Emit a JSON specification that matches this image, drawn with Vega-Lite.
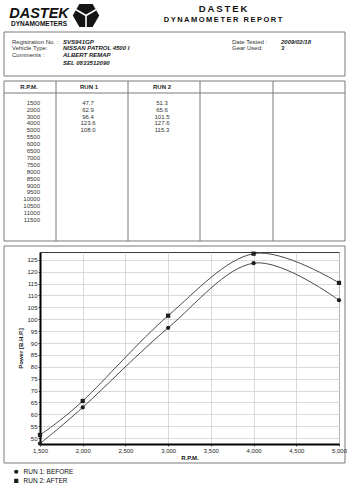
{
  "$schema": "https://vega.github.io/schema/vega-lite/v6.json",
  "padding": 0,
  "background": "white",
  "bounds": "flush",
  "spacing": 0,
  "config": {"font": "Liberation Sans", "view": {"stroke": null}, "concat": {"spacing": 0}},
  "vconcat": [
    {
      "width": 354,
      "height": 252,
      "layer": [
        {
          "encoding": {
            "x": {"field": "hx", "type": "quantitative", "axis": null,
              "scale": {"domain": [0,1,2,3,4,5,6,7,8,9,10,11,12,13,14,15], "range": [4,12,29,39,56,63,86,89,128,162,200,223,232,273,281,345], "nice": false, "zero": false}},
            "y": {"field": "vy", "type": "quantitative", "axis": null,
              "scale": {"domain": [0,1,2,3,4,5,6,7,8,9,10,11,12,13,14,15,16], "range": [8.5,13.7,15.5,19.5,24.2,32,41.7,48.3,55,62.7,76,81,86.5,93,241,246,463], "nice": false, "zero": false}}
          },
          "layer": [
            {
              "data": {"values": [
                {"hx": 0, "hx2": 15, "vy": 5, "vy2": 10},
                {"hx": 0, "hx2": 15, "vy": 11, "vy2": 14},
                {"hx": 0, "hx2": 15, "vy": 15, "vy2": 16}
              ]},
              "mark": {"type": "rect", "fillOpacity": 0, "stroke": "#7a7a7a", "strokeWidth": 1},
              "encoding": {"x2": {"field": "hx2"}, "y2": {"field": "vy2"}}
            },
            {
              "data": {"values": [
                {"hx": 4, "hx2": 4, "vy": 11, "vy2": 14},
                {"hx": 8, "hx2": 8, "vy": 11, "vy2": 14},
                {"hx": 10, "hx2": 10, "vy": 11, "vy2": 14},
                {"hx": 13, "hx2": 13, "vy": 11, "vy2": 14},
                {"hx": 0, "hx2": 15, "vy": 13, "vy2": 13}
              ]},
              "mark": {"type": "rule", "stroke": "#7a7a7a", "strokeWidth": 1},
              "encoding": {"x2": {"field": "hx2"}, "y2": {"field": "vy2"}}
            },
            {
              "data": {"values": [{"hx": 11, "vy": 0, "text": "D\u2009A\u2009S\u2009T\u2009E\u2009K"}]},
              "mark": {"type": "text", "fontSize": 9.5, "fontWeight": "bold", "align": "center", "baseline": "middle", "color": "#111"},
              "encoding": {"text": {"field": "text"}}
            },
            {
              "data": {"values": [{"hx": 11, "vy": 3, "text": "D\u2009Y\u2009N\u2009A\u2009M\u2009O\u2009M\u2009E\u2009T\u2009E\u2009R\u2009 \u2009R\u2009E\u2009P\u2009O\u2009R\u2009T"}]},
              "mark": {"type": "text", "fontSize": 7.5, "fontWeight": "bold", "align": "center", "baseline": "middle", "color": "#111"},
              "encoding": {"text": {"field": "text"}}
            },
            {
              "data": {"values": [{"hx": 3, "vy": 1, "text": "DASTEK"}]},
              "mark": {"type": "text", "fontSize": 14.5, "fontWeight": "bold", "fontStyle": "italic", "align": "center", "baseline": "middle", "color": "#111"},
              "encoding": {"text": {"field": "text"}}
            },
            {
              "data": {"values": [{"hx": 3, "vy": 4, "text": "DYNAMOMETERS"}]},
              "mark": {"type": "text", "fontSize": 6.5, "fontWeight": "bold", "align": "center", "baseline": "middle", "color": "#111"},
              "encoding": {"text": {"field": "text"}}
            },
            {
              "data": {"values": [{"hx": 6, "vy": 2}]},
              "mark": {"type": "point", "shape": "M-1,0L-0.5,-0.87L0.5,-0.87L1,0L0.5,0.87L-0.5,0.87Z", "filled": true, "color": "#151515", "opacity": 1, "size": 700}
            },
            {
              "data": {"values": [{"hx": 6, "vy": 2}]},
              "mark": {"type": "point", "shape": "M0,0L0,0.87M0,0L-0.75,-0.43M0,0L0.75,-0.43", "filled": false, "stroke": "white", "strokeWidth": 1.6, "opacity": 1, "size": 700}
            },
            {
              "data": {"values": [
                {"hx": 1, "vy": 6, "text": "Registration No. :"},
                {"hx": 1, "vy": 7, "text": "Vehicle Type:"},
                {"hx": 1, "vy": 8, "text": "Comments :"},
                {"hx": 12, "vy": 6, "text": "Date Tested :"},
                {"hx": 12, "vy": 7, "text": "Gear Used:"}
              ]},
              "mark": {"type": "text", "fontSize": 6, "align": "left", "baseline": "middle", "color": "#333"},
              "encoding": {"text": {"field": "text"}}
            },
            {
              "data": {"values": [
                {"hx": 5, "vy": 6, "text": "SVS941GP"},
                {"hx": 5, "vy": 7, "text": "NISSAN PATROL 4500 I"},
                {"hx": 5, "vy": 8, "text": "ALBERT    REMAP"},
                {"hx": 5, "vy": 9, "text": "SEL   0833512090"},
                {"hx": 14, "vy": 6, "text": "2009/02/18"},
                {"hx": 14, "vy": 7, "text": "3"}
              ]},
              "mark": {"type": "text", "fontSize": 6, "fontWeight": "bold", "fontStyle": "italic", "align": "left", "baseline": "middle", "color": "#1a1a1a"},
              "encoding": {"text": {"field": "text"}}
            },
            {
              "data": {"values": [
                {"hx": 2, "vy": 12, "text": "R.P.M."},
                {"hx": 7, "vy": 12, "text": "RUN 1"},
                {"hx": 9, "vy": 12, "text": "RUN 2"}
              ]},
              "mark": {"type": "text", "fontSize": 6, "fontWeight": "bold", "align": "center", "baseline": "middle", "color": "#222"},
              "encoding": {"text": {"field": "text"}}
            }
          ]
        },
        {
          "data": {"values": [
            {"rpm": "1500", "run1": 47.7, "run2": 51.3},
            {"rpm": "2000", "run1": 62.9, "run2": 65.6},
            {"rpm": "3000", "run1": 96.4, "run2": 101.5},
            {"rpm": "4000", "run1": 123.6, "run2": 127.6},
            {"rpm": "5000", "run1": 108.0, "run2": 115.3},
            {"rpm": "5500"},
            {"rpm": "6000"},
            {"rpm": "6500"},
            {"rpm": "7000"},
            {"rpm": "7500"},
            {"rpm": "8000"},
            {"rpm": "8500"},
            {"rpm": "9000"},
            {"rpm": "9500"},
            {"rpm": "10000"},
            {"rpm": "10500"},
            {"rpm": "11000"},
            {"rpm": "11500"}
          ]},
          "encoding": {
            "y": {"field": "rpm", "type": "ordinal", "sort": null, "axis": null,
              "scale": {"type": "point", "domain": ["1500","2000","3000","4000","5000","5500","6000","6500","7000","7500","8000","8500","9000","9500","10000","10500","11000","11500"], "range": [102.7, 220], "padding": 0}}
          },
          "layer": [
            {
              "mark": {"type": "text", "fontSize": 6, "align": "right", "baseline": "middle", "color": "#333"},
              "encoding": {
                "x": {"datum": 0, "type": "quantitative", "axis": null, "scale": {"domain": [0, 1, 2], "range": [40, 88, 162], "nice": false, "zero": false}},
                "text": {"field": "rpm"}
              }
            },
            {
              "transform": [{"filter": "isValid(datum.run1)"}],
              "mark": {"type": "text", "fontSize": 6, "align": "center", "baseline": "middle", "color": "#333"},
              "encoding": {
                "x": {"datum": 1, "type": "quantitative", "axis": null, "scale": {"domain": [0, 1, 2], "range": [40, 88, 162], "nice": false, "zero": false}},
                "text": {"field": "run1", "type": "quantitative", "format": ".1f"}
              }
            },
            {
              "transform": [{"filter": "isValid(datum.run2)"}],
              "mark": {"type": "text", "fontSize": 6, "align": "center", "baseline": "middle", "color": "#333"},
              "encoding": {
                "x": {"datum": 2, "type": "quantitative", "axis": null, "scale": {"domain": [0, 1, 2], "range": [40, 88, 162], "nice": false, "zero": false}},
                "text": {"field": "run2", "type": "quantitative", "format": ".1f"}
              }
            }
          ]
        }
      ],
      "resolve": {"scale": {"x": "independent", "y": "independent"}}
    },
    {
      "bounds": "flush",
      "spacing": 0,
      "hconcat": [
        {"width": 40, "height": 192, "data": {"values": []}, "mark": "point"},
        {
          "width": 299,
          "height": 192,
          "view": {"stroke": "#3a3a3a", "strokeWidth": 1},
          "data": {"values": [
            {"series": "RUN 1: BEFORE", "rpm": 1500, "power": 47.7},
            {"series": "RUN 1: BEFORE", "rpm": 2000, "power": 62.9},
            {"series": "RUN 1: BEFORE", "rpm": 3000, "power": 96.4},
            {"series": "RUN 1: BEFORE", "rpm": 4000, "power": 123.6},
            {"series": "RUN 1: BEFORE", "rpm": 5000, "power": 108.0},
            {"series": "RUN 2: AFTER", "rpm": 1500, "power": 51.3},
            {"series": "RUN 2: AFTER", "rpm": 2000, "power": 65.6},
            {"series": "RUN 2: AFTER", "rpm": 3000, "power": 101.5},
            {"series": "RUN 2: AFTER", "rpm": 4000, "power": 127.6},
            {"series": "RUN 2: AFTER", "rpm": 5000, "power": 115.3}
          ]},
          "encoding": {
            "x": {"field": "rpm", "type": "quantitative",
              "scale": {"domain": [1500, 5000], "nice": false, "zero": false},
              "axis": {"values": [1500, 2000, 2500, 3000, 3500, 4000, 4500, 5000], "format": ",d", "title": "R.P.M.",
                "titleFontSize": 6, "titleFontWeight": "bold", "titlePadding": 1, "titleColor": "#111",
                "labelFontSize": 6, "labelPadding": 1, "labelColor": "#222", "labelFlush": false,
                "tickSize": 2, "tickColor": "#555", "domainColor": "#000", "domainWidth": 2,
                "gridColor": "#d2d2d2", "gridWidth": 0.8}},
            "y": {"field": "power", "type": "quantitative",
              "scale": {"domain": [47.5, 128.3], "nice": false, "zero": false},
              "axis": {"values": [50, 55, 60, 65, 70, 75, 80, 85, 90, 95, 100, 105, 110, 115, 120, 125], "title": "Power [B.H.P.]",
                "titleFontSize": 6, "titleFontWeight": "bold", "titlePadding": 3, "titleColor": "#111",
                "labelFontSize": 6, "labelPadding": 1, "labelColor": "#222",
                "tickSize": 2, "tickColor": "#555", "domainColor": "#000", "domainWidth": 2,
                "gridColor": "#d2d2d2", "gridWidth": 0.8}}
          },
          "layer": [
            {
              "mark": {"type": "line", "interpolate": "cardinal", "color": "#4a4a4a", "strokeWidth": 1},
              "encoding": {"detail": {"field": "series"}}
            },
            {
              "mark": {"type": "point", "filled": true, "color": "#1e1e1e", "opacity": 1, "size": 18},
              "encoding": {
                "shape": {"field": "series", "type": "nominal",
                  "scale": {"domain": ["RUN 1: BEFORE", "RUN 2: AFTER"], "range": ["circle", "square"]},
                  "legend": {"title": null, "orient": "none", "legendX": 13, "legendY": 468.5, "direction": "vertical", "labelFontSize": 6.5, "labelColor": "#111", "rowPadding": 2.2, "clipHeight": 6.5, "labelOffset": 4, "padding": 0, "symbolSize": 18, "symbolFillColor": "#1e1e1e", "symbolStrokeColor": "#1e1e1e"}}
              }
            }
          ]
        }
      ]
    }
  ]
}
